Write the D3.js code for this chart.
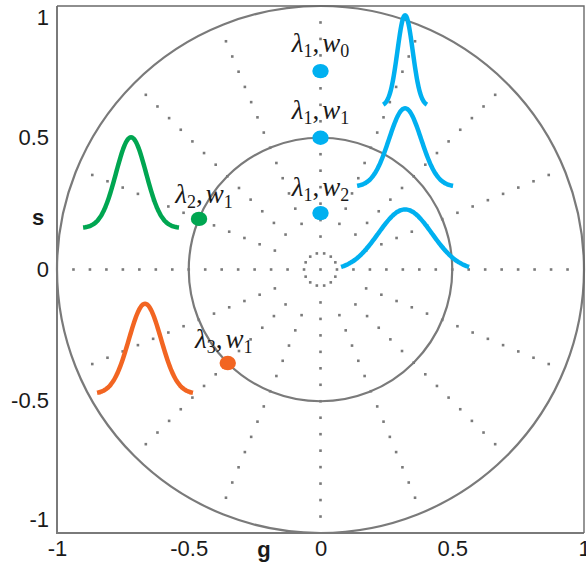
<!DOCTYPE html>
<html>
<head>
<meta charset="utf-8">
<script src="https://cdn.jsdelivr.net/npm/d3@7"></script>
<style>
  html, body { margin: 0; padding: 0; background: #fff; }
  svg { display: block; }
</style>
</head>
<body>
<svg id="chart" width="586" height="565"></svg>
<script>
// Axis ticks
const tickValues = [-1, -0.5, 0, 0.5, 1];
const tickLabels = ["-1", "-0.5", "0", "0.5", "1"];

// Reference circles of the phasor plane
const circleRadii = [0.5, 1];

// Phasor points: lambda index, width index, coordinates g, s
const pointLambda = [1, 1, 1, 2, 3];
const pointWidth = [0, 1, 2, 1, 1];
const pointG = [0, 0, 0, -0.461, -0.352];
const pointS = [0.753, 0.5, 0.214, 0.192, -0.355];

// Gaussian profile glyphs: lambda group, peak position, baseline, height, sigma, half span
const curveLambda = [1, 1, 1, 2, 3];
const curveG = [0.321, 0.321, 0.321, -0.719, -0.666];
const curveBase = [0.620, 0.314, -0.004, 0.157, -0.472];
const curveHeight = [0.345, 0.298, 0.232, 0.345, 0.342];
const curveSigma = [0.029, 0.061, 0.102, 0.057, 0.061];
const curveSpan = [0.083, 0.182, 0.243, 0.182, 0.182];

const colorOf = d3.scaleOrdinal([1, 2, 3], ["#00b0f0", "#00a651", "#f26522"]);

const svg = d3.select("#chart");
const x = d3.scaleLinear([-1, 1], [57, 584]);
const y = d3.scaleLinear([-1, 1], [533, 6]);
const cx = x(0), cy = y(0);
const unit = x(1) - x(0);

const grid = svg.append("g");
const gridColor = "#7a7a7a";

// dotted radial spokes every 22.5 degrees, one dot per step
const spokeAngles = d3.range(0, 360, 22.5);
const dotStep = 0.0625;
const spokeDots = [];
spokeAngles.forEach(a => {
  const rad = a * Math.PI / 180;
  const axial = a % 90 === 0;
  const kStart = axial ? 2 : 3;
  for (let k = kStart; k <= 15; k++) {
    spokeDots.push([k * dotStep * Math.cos(rad), k * dotStep * Math.sin(rad)]);
  }
});
spokeDots.push([0, 0]);
grid.selectAll("rect.dot")
  .data(spokeDots)
  .join("rect")
  .attr("class", "dot")
  .attr("x", d => x(d[0]) - 1.3)
  .attr("y", d => y(d[1]) - 1.3)
  .attr("width", 2.6).attr("height", 2.6)
  .attr("fill", gridColor);

// small dotted circle at the origin
const ringDots = d3.range(0, 360, 360 / 14).map(a => [dotStep * Math.cos(a * Math.PI / 180), dotStep * Math.sin(a * Math.PI / 180)]);
grid.selectAll("rect.ring")
  .data(ringDots)
  .join("rect")
  .attr("class", "ring")
  .attr("x", d => x(d[0]) - 1.3)
  .attr("y", d => y(d[1]) - 1.3)
  .attr("width", 2.6).attr("height", 2.6)
  .attr("fill", gridColor);

// solid reference circles
grid.selectAll("circle.ref")
  .data(circleRadii)
  .join("circle")
  .attr("class", "ref")
  .attr("cx", cx).attr("cy", cy)
  .attr("r", d => d * unit)
  .attr("fill", "none")
  .attr("stroke", gridColor)
  .attr("stroke-width", 2.2);

// frame
svg.append("path")
  .attr("d", `M${x(-1)},${y(1)}V${y(-1)}H${x(1)}`)
  .attr("fill", "none").attr("stroke", "#7a7a7a").attr("stroke-width", 2);
svg.append("path")
  .attr("d", `M${x(-1)},${y(1)}H${x(1)}V${y(-1)}`)
  .attr("fill", "none").attr("stroke", "#6a6a6a").attr("stroke-width", 1.4);

// axes (labels only)
const fontSans = "'Liberation Sans', Arial, sans-serif";
const xAxis = svg.append("g")
  .attr("transform", `translate(0,${y(-1)})`)
  .call(d3.axisBottom(x).tickValues(tickValues).tickFormat((d, i) => tickLabels[i]).tickSize(0).tickPadding(7));
const yAxis = svg.append("g")
  .attr("transform", `translate(${x(-1)},0)`)
  .call(d3.axisLeft(y).tickValues(tickValues).tickFormat((d, i) => tickLabels[i]).tickSize(0).tickPadding(8));
[xAxis, yAxis].forEach(g => {
  g.select(".domain").remove();
  g.selectAll("text")
    .attr("font-family", fontSans)
    .attr("font-size", 22)
    .attr("fill", "#1a1a1a");
});
// keep the end labels of the vertical axis inside the frame
yAxis.selectAll(".tick").attr("transform", d => {
  const py = Math.max(y(1) + 12, Math.min(y(-1) - 13, y(d)));
  return `translate(0,${py})`;
});

svg.append("text")
  .attr("x", 264).attr("y", 557)
  .attr("text-anchor", "middle")
  .attr("font-family", fontSans).attr("font-weight", "bold").attr("font-size", 22)
  .attr("fill", "#1a1a1a")
  .text("g");
svg.append("text")
  .attr("x", 38).attr("y", 225)
  .attr("text-anchor", "middle")
  .attr("font-family", fontSans).attr("font-weight", "bold").attr("font-size", 22)
  .attr("fill", "#1a1a1a")
  .text("s");

// Gaussian profile glyphs
const line = d3.line().curve(d3.curveBasis);
curveG.forEach((g0, i) => {
  const pts = d3.range(-curveSpan[i], curveSpan[i] + 1e-9, curveSpan[i] / 60).map(t => [
    x(g0 + t),
    y(curveBase[i] + curveHeight[i] * Math.exp(-(t * t) / (2 * curveSigma[i] * curveSigma[i])))
  ]);
  svg.append("path")
    .attr("d", line(pts))
    .attr("fill", "none")
    .attr("stroke", colorOf(curveLambda[i]))
    .attr("stroke-width", 4.5)
    .attr("stroke-linecap", "butt");
});

// phasor points
const points = pointG.map((g, i) => ({ g, s: pointS[i], l: pointLambda[i], w: pointWidth[i] }));
svg.selectAll("ellipse.pt")
  .data(points)
  .join("ellipse")
  .attr("class", "pt")
  .attr("cx", d => x(d.g))
  .attr("cy", d => y(d.s))
  .attr("rx", 8.2).attr("ry", 7.2)
  .attr("fill", d => colorOf(d.l));

// point labels
const labelDx = [0, 0, 0, 5, -4];
const labelDy = [-19, -19, -17, -16, -15];
const fontSerif = "'Liberation Serif', 'DejaVu Serif', serif";
points.forEach((d, i) => {
  const t = svg.append("text")
    .attr("x", x(d.g) + labelDx[i])
    .attr("y", y(d.s) + labelDy[i])
    .attr("text-anchor", "middle")
    .attr("font-family", fontSerif)
    .attr("font-size", 27)
    .attr("fill", "#1a1a1a");
  t.append("tspan").attr("font-style", "italic").text("λ");
  t.append("tspan").attr("font-size", 18).attr("dy", 5).text(d.l);
  t.append("tspan").attr("dy", -5).text(",");
  t.append("tspan").attr("font-style", "italic").attr("dx", 3).text("w");
  t.append("tspan").attr("font-size", 18).attr("dy", 5).text(d.w);
});
</script>
</body>
</html>
